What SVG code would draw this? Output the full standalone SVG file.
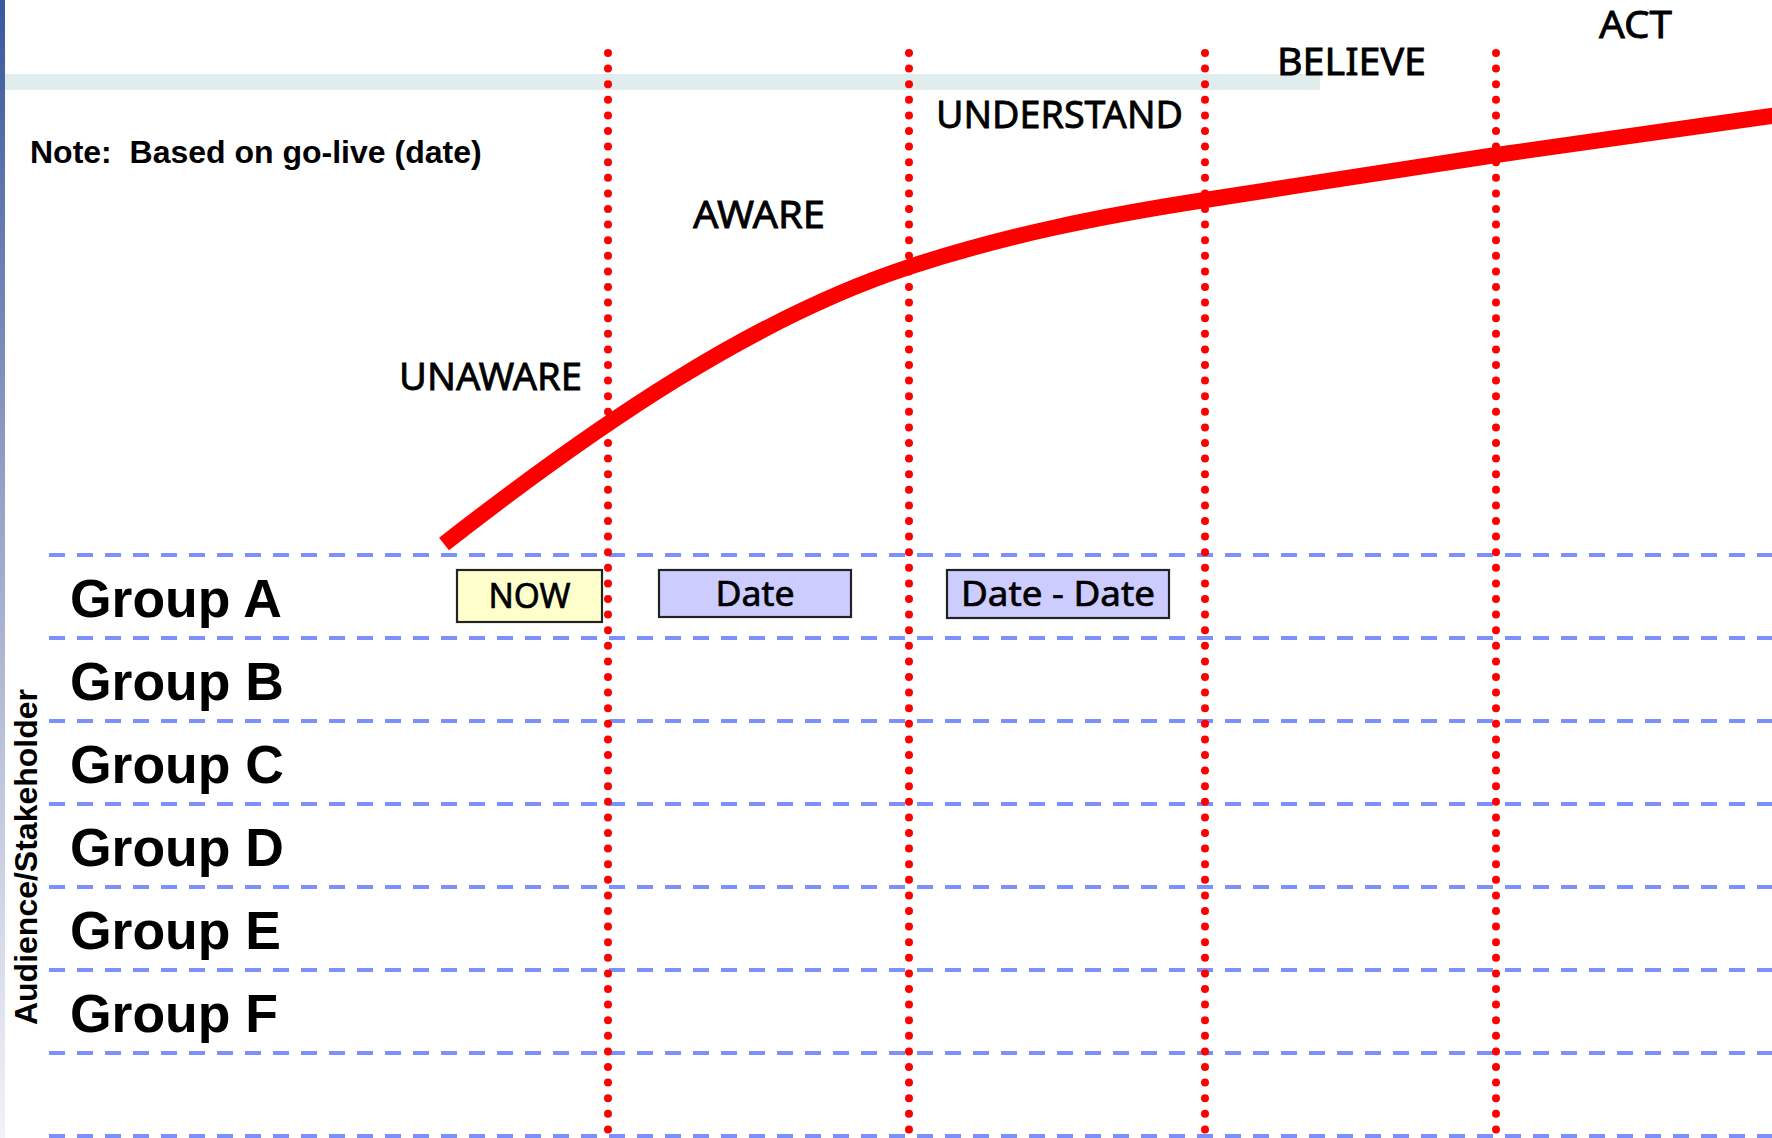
<svg xmlns="http://www.w3.org/2000/svg" width="1772" height="1138" viewBox="0 0 1772 1138">
  <defs>
    <linearGradient id="edgeFade" x1="0" y1="0" x2="0" y2="1">
      <stop offset="0" stop-color="#3a589e"/>
      <stop offset="0.45" stop-color="#9aa4c8"/>
      <stop offset="1" stop-color="#f2f3f8"/>
    </linearGradient>
    <style>
      .grid { stroke: #7d8ffa; stroke-width: 4; stroke-dasharray: 16 12; fill: none; }
      .phase { stroke: #ff0000; stroke-width: 8; stroke-linecap: round; stroke-dasharray: 0 15.6; fill: none; }
      .curve { stroke: #ff0000; stroke-width: 16; stroke-linecap: butt; stroke-linejoin: round; fill: none; }
      .stage { font-family: "Noto Sans", "DejaVu Sans", sans-serif; font-size: 38px; fill: #000; stroke: #000; stroke-width: 0.8; }
      .group { font-family: "Liberation Sans", Arial, sans-serif; font-weight: bold; font-size: 53.5px; fill: #000; }
      .note { font-family: "Liberation Sans", Arial, sans-serif; font-weight: bold; font-size: 32px; fill: #000; }
      .boxlabel { font-family: "Noto Sans", "DejaVu Sans", sans-serif; font-size: 35px; fill: #000; stroke: #000; stroke-width: 0.7; text-anchor: middle; }
      .box { stroke: #222; stroke-width: 2.2; }
    </style>
  </defs>

  <!-- background and decorative bars -->
  <rect x="0" y="0" width="1772" height="1138" fill="#ffffff"/>
  <rect x="0" y="0" width="5" height="1138" fill="url(#edgeFade)"/>
  <rect x="5" y="74" width="1315" height="16" fill="#e1eded"/>

  <!-- note -->
  <text class="note" x="30" y="163" xml:space="preserve">Note:  Based on go-live (date)</text>

  <!-- axis title -->
  <text class="note" x="37" y="857" text-anchor="middle" transform="rotate(-90 37 857)">Audience/Stakeholder</text>

  <!-- row separators -->
  <g id="rows">
    <line class="grid" x1="49" y1="555" x2="1772" y2="555"/>
    <line class="grid" x1="49" y1="638" x2="1772" y2="638"/>
    <line class="grid" x1="49" y1="721" x2="1772" y2="721"/>
    <line class="grid" x1="49" y1="804" x2="1772" y2="804"/>
    <line class="grid" x1="49" y1="887" x2="1772" y2="887"/>
    <line class="grid" x1="49" y1="970" x2="1772" y2="970"/>
    <line class="grid" x1="49" y1="1053" x2="1772" y2="1053"/>
    <line class="grid" x1="49" y1="1136" x2="1772" y2="1136"/>
  </g>

  <!-- group labels -->
  <g id="group-a"><text class="group" x="70" y="617">Group A</text></g>
  <g id="group-b"><text class="group" x="70" y="700">Group B</text></g>
  <g id="group-c"><text class="group" x="70" y="783">Group C</text></g>
  <g id="group-d"><text class="group" x="70" y="866">Group D</text></g>
  <g id="group-e"><text class="group" x="70" y="949">Group E</text></g>
  <g id="group-f"><text class="group" x="70" y="1032">Group F</text></g>

  <!-- timing boxes for Group A -->
  <g id="box-now">
    <rect class="box" x="457" y="570" width="145" height="52" fill="#ffffcc"/>
    <text class="boxlabel" x="529.5" y="608" textLength="82" lengthAdjust="spacingAndGlyphs">NOW</text>
  </g>
  <g id="box-date">
    <rect class="box" x="659" y="570" width="192" height="47" fill="#ccccff"/>
    <text class="boxlabel" x="755" y="606" textLength="79" lengthAdjust="spacingAndGlyphs">Date</text>
  </g>
  <g id="box-date-range">
    <rect class="box" x="947" y="570" width="222" height="48" fill="#ccccff"/>
    <text class="boxlabel" x="1058" y="606" textLength="194" lengthAdjust="spacingAndGlyphs" xml:space="preserve">Date - Date</text>
  </g>

  <!-- stage labels -->
  <g id="stage-unaware"><text class="stage" x="399" y="390" textLength="183" lengthAdjust="spacingAndGlyphs">UNAWARE</text></g>
  <g id="stage-aware"><text class="stage" x="693" y="228" textLength="132" lengthAdjust="spacingAndGlyphs">AWARE</text></g>
  <g id="stage-understand"><text class="stage" x="936" y="128" textLength="247" lengthAdjust="spacingAndGlyphs">UNDERSTAND</text></g>
  <g id="stage-believe"><text class="stage" x="1277" y="75" textLength="149" lengthAdjust="spacingAndGlyphs">BELIEVE</text></g>
  <g id="stage-act"><text class="stage" x="1599" y="38" textLength="73" lengthAdjust="spacingAndGlyphs">ACT</text></g>

  <!-- connectors: adoption curve and phase boundaries -->
  <g id="connectors">
    <path class="curve" d="M444,544 C599,423 754,318 909,267 C1008,234.3 1106,215.3 1205,200 C1302,185 1399,169.8 1496,155 C1590,141.5 1684,128.3 1778,115"/>
    <line class="phase" x1="608" y1="53" x2="608" y2="1140"/>
    <line class="phase" x1="909" y1="53" x2="909" y2="1140"/>
    <line class="phase" x1="1205" y1="53" x2="1205" y2="1140"/>
    <line class="phase" x1="1496" y1="53" x2="1496" y2="1140"/>
  </g>
</svg>
